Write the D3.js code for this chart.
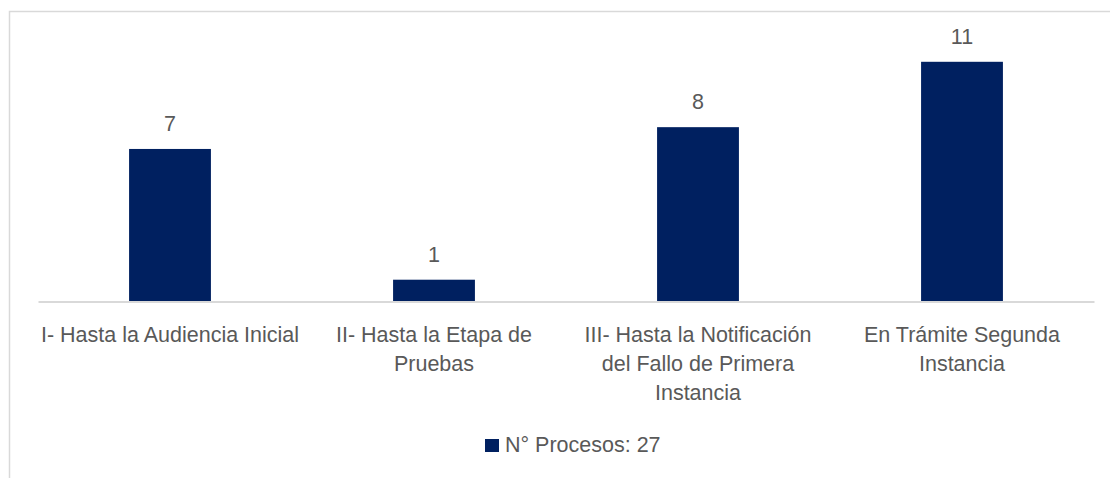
<!DOCTYPE html>
<html>
<head>
<meta charset="utf-8">
<script src="https://cdn.jsdelivr.net/npm/d3@7"></script>
<style>
  html, body { margin: 0; padding: 0; background: #fff; }
  svg { display: block; font-family: "Liberation Sans", Arial, sans-serif; }
</style>
</head>
<body>
<svg id="chart" width="1110" height="478"></svg>
<script>
const categories = [
  "I- Hasta la Audiencia Inicial",
  "II- Hasta la Etapa de\nPruebas",
  "III- Hasta la Notificación\ndel Fallo de Primera\nInstancia",
  "En Trámite Segunda\nInstancia"
];
const values = [7, 1, 8, 11];
const seriesName = "N° Procesos: 27";

const W = 1110, H = 478;
const svg = d3.select("#chart");
const textColor = "#595959";
const barColor = "#002060";
const fontSize = 21.5;

// outer frame (cropped on right/bottom)
svg.append("path")
  .attr("d", `M9.5,${H + 2}V11.5H${W + 2}`)
  .attr("fill", "none").attr("stroke", "#d9d9d9").attr("stroke-width", 1.5);

const x = d3.scaleBand().domain(categories).range([38, 1094]).paddingInner(0.69).paddingOuter(0.345);
const y = d3.scaleLinear().domain([0, 12]).range([301.5, 40]);

// bars
svg.append("g").selectAll("rect").data(values).join("rect")
  .attr("x", (d, i) => x(categories[i]))
  .attr("width", x.bandwidth())
  .attr("y", d => y(d))
  .attr("height", d => y(0) - y(d))
  .attr("fill", barColor);

// category axis
const axis = d3.axisBottom(x).tickSize(0).tickFormat("");
const gAxis = svg.append("g").attr("transform", `translate(0,${y(0)})`).call(axis);
gAxis.select(".domain").attr("stroke", "#d9d9d9").attr("stroke-width", 2);

// category labels (multi-line)
const labels = svg.append("g").selectAll("text").data(categories).join("text")
  .attr("x", d => x(d) + x.bandwidth() / 2)
  .attr("y", y(0) + 40)
  .attr("text-anchor", "middle")
  .attr("fill", textColor)
  .attr("font-size", fontSize);
labels.each(function(d) {
  const t = d3.select(this);
  d.split("\n").forEach((line, i) => {
    t.append("tspan").attr("x", x(d) + x.bandwidth() / 2)
      .attr("dy", i === 0 ? 0 : 29.3).text(line);
  });
});

// value labels
svg.append("g").selectAll("text").data(values).join("text")
  .attr("x", (d, i) => x(categories[i]) + x.bandwidth() / 2)
  .attr("y", d => y(d) - 18)
  .attr("text-anchor", "middle")
  .attr("fill", textColor)
  .attr("font-size", fontSize)
  .text(d => d);

// legend
const lg = svg.append("g");
lg.append("rect").attr("x", 485).attr("y", 439).attr("width", 14).attr("height", 13).attr("fill", barColor);
lg.append("text").attr("x", 505).attr("y", 452)
  .attr("fill", textColor).attr("font-size", fontSize).text(seriesName);
</script>
</body>
</html>
